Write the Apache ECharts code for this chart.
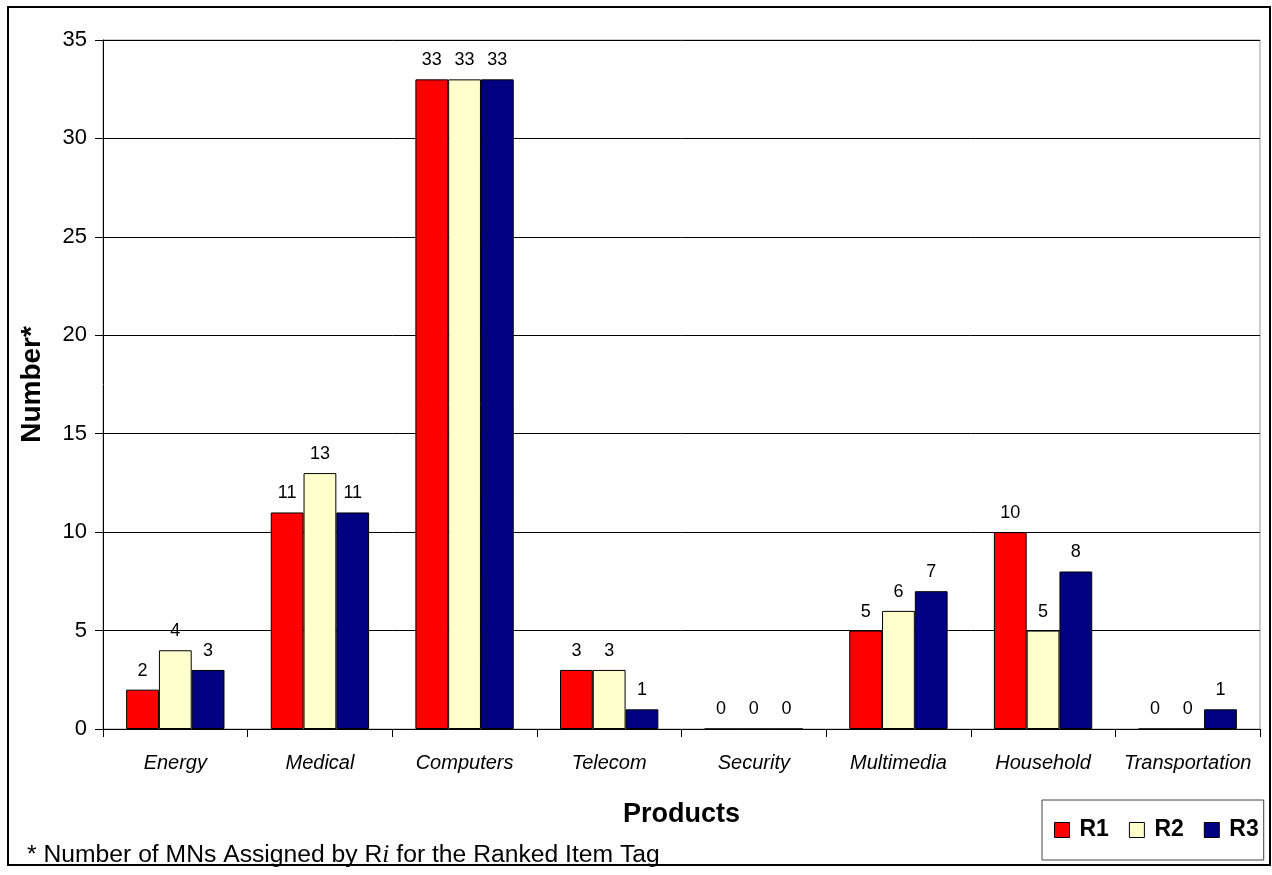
<!DOCTYPE html>
<html>
<head>
<meta charset="utf-8">
<script src="https://cdn.jsdelivr.net/npm/echarts@6/dist/echarts.min.js"></script>
<style>
  html, body { margin: 0; padding: 0; background: #fff; }
  #chart { width: 1272px; height: 875px; }
</style>
</head>
<body>
<div id="chart"></div>
<script>
// Product categories and MN counts per ranked item tag
const categories = ['Energy', 'Medical', 'Computers', 'Telecom', 'Security', 'Multimedia', 'Household', 'Transportation'];
const r1 = [2, 11, 33, 3, 0, 5, 10, 0];
const r2 = [4, 13, 33, 3, 0, 6, 5, 0];
const r3 = [3, 11, 33, 1, 0, 7, 8, 1];
const seriesNames = ['R1', 'R2', 'R3'];
const seriesColors = ['#FF0000', '#FFFFCC', '#000080'];

const FONT = 'Liberation Sans, Arial, sans-serif';

const chart = echarts.init(document.getElementById('chart'), null, { renderer: 'canvas' });

function barSeries(name, data, color) {
  return {
    name: name,
    type: 'bar',
    data: data,
    barGap: '0%',
    barCategoryGap: '32%',
    itemStyle: { color: color, borderColor: '#000', borderWidth: 1 },
    label: {
      show: true,
      position: 'top',
      distance: 10,
      color: '#000',
      fontFamily: FONT,
      fontSize: 18
    },
    emphasis: { disabled: true }
  };
}

chart.setOption({
  animation: false,
  backgroundColor: '#fff',
  grid: {
    left: 103, right: 12, top: 40, bottom: 146,
    show: true, borderColor: '#999', borderWidth: 1, backgroundColor: 'transparent'
  },
  legend: {
    data: seriesNames,
    left: 1042,
    top: 800,
    orient: 'horizontal',
    itemWidth: 15,
    itemHeight: 15,
    itemGap: 20,
    padding: [18, 5, 18, 12],
    borderColor: '#444',
    borderWidth: 1,
    backgroundColor: '#fff',
    icon: 'rect',
    itemStyle: { borderColor: '#000', borderWidth: 1 },
    textStyle: {
      fontFamily: FONT, fontSize: 23, fontWeight: 'bold', color: '#000',
      padding: [0, 0, 0, 5], lineHeight: 24
    },
    selectedMode: false
  },
  xAxis: {
    type: 'category',
    data: categories,
    name: 'Products',
    nameLocation: 'middle',
    nameGap: 72,
    nameTextStyle: { fontFamily: FONT, fontSize: 27, fontWeight: 'bold', color: '#000' },
    axisLine: { lineStyle: { color: '#000', width: 1 } },
    axisTick: { show: true, length: 8, inside: false, lineStyle: { color: '#000' } },
    axisLabel: {
      fontFamily: FONT, fontSize: 20, fontStyle: 'italic', color: '#000', margin: 24, interval: 0
    },
    splitLine: { show: false }
  },
  yAxis: {
    type: 'value',
    min: 0,
    max: 35,
    interval: 5,
    name: 'Number*',
    nameLocation: 'middle',
    nameRotate: 90,
    nameGap: 57,
    nameTextStyle: { fontFamily: FONT, fontSize: 28, fontWeight: 'bold', color: '#000' },
    axisLine: { show: true, lineStyle: { color: '#000', width: 1 } },
    axisTick: { show: true, length: 8, lineStyle: { color: '#000' } },
    axisLabel: { fontFamily: FONT, fontSize: 22, color: '#000', margin: 16 },
    splitLine: { show: true, lineStyle: { color: '#000', width: 1 } }
  },
  series: [
    barSeries(seriesNames[0], r1, seriesColors[0]),
    barSeries(seriesNames[1], r2, seriesColors[1]),
    barSeries(seriesNames[2], r3, seriesColors[2])
  ],
  graphic: [
    {
      type: 'rect',
      silent: true,
      z: 100,
      shape: { x: 8, y: 7, width: 1262, height: 858 },
      style: { fill: 'none', stroke: '#000', lineWidth: 2 }
    },
    {
      type: 'text',
      x: 27,
      y: 855,
      z: 100,
      style: {
        text: '{n|* Number of MNs Assigned by R}{i|i}{n| for the Ranked Item Tag}',
        verticalAlign: 'middle',
        rich: {
          n: { fontFamily: FONT, fontSize: 24.7, fill: '#000' },
          i: { fontFamily: 'Liberation Serif, Times New Roman, serif', fontStyle: 'italic', fontSize: 25.5, fill: '#000' }
        }
      }
    }
  ]
});
</script>
</body>
</html>
